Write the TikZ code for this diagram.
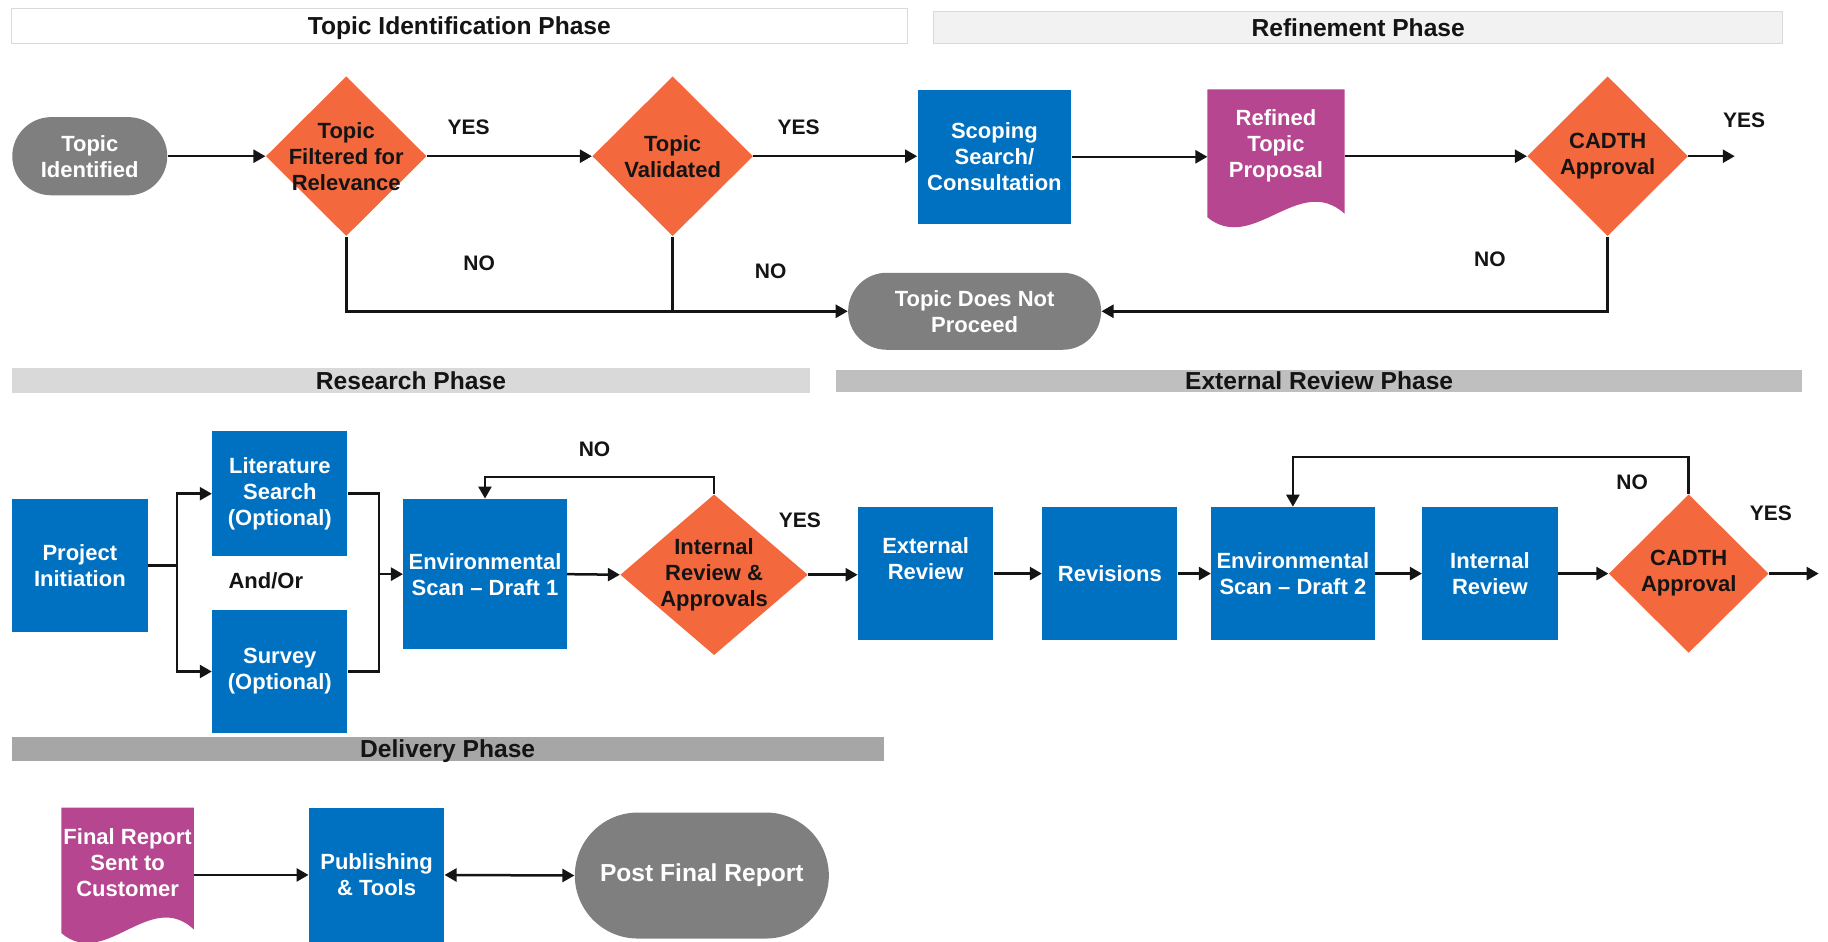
\documentclass[tikz,border=0pt]{standalone}
\usepackage{fontspec}
\setmainfont{Liberation Sans}
\usetikzlibrary{arrows.meta,shapes.geometric,shapes.misc,calc,backgrounds}
\definecolor{cadblue}{HTML}{0070C0}
\definecolor{cadorange}{HTML}{F4683D}
\definecolor{cadgrey}{HTML}{7F7F7F}
\definecolor{cadpink}{HTML}{B5468F}
\definecolor{cadink}{HTML}{141414}
\definecolor{barpale}{HTML}{F2F2F2}
\definecolor{barlight}{HTML}{D9D9D9}
\definecolor{barmid}{HTML}{BFBFBF}
\definecolor{bardark}{HTML}{A6A6A6}

% wavy bottom of a report node, filled behind it
\newcommand\docwave[1]{%
  \fill[cadpink] (#1.north west) -- (#1.north east)
    -- ($(#1.south east)+(0,-5.8pt)$)
    .. controls ($(#1.south east)!0.333!(#1.south west)+(0,14.9pt)$)
    and ($(#1.south east)!0.667!(#1.south west)+(0,-26.2pt)$)
    .. ($(#1.south west)+(0,-7.6pt)$) -- cycle;}

\begin{document}
\begin{tikzpicture}[
  x=0.5829pt,
  y=-0.5829pt,
  every node/.style={font=\bfseries\fontsize{11}{13}\selectfont, inner sep=0pt, align=center},
  phase/.style={rectangle, font=\bfseries\fontsize{12.3}{14}\selectfont, text=cadink,
    text height=8.8pt, text depth=0pt},
  task/.style={rectangle, fill=cadblue, text=white},
  decision/.style={diamond, fill=cadorange, minimum width=80.4pt, minimum height=79.9pt},
  terminal/.style={rounded rectangle, fill=cadgrey, text=white},
  report/.style={rectangle, text=white},
  answer/.style={font=\bfseries\fontsize{10.5}{12}\selectfont, text=cadink},
  every label/.style={text=cadink},
  link/.style={cadink, line width=1.25pt},
  flow/.style={link, -{Triangle[length=6pt,width=6.5pt]}},
  twoway/.style={link, {Triangle[length=6pt,width=6.5pt]}-{Triangle[length=6pt,width=6.5pt]}}
]
  \useasboundingbox (0,0) rectangle (1568,808);

  % ---- phase bars --------------------------------------------------------
  \node[phase, fill=white, draw=barlight, minimum width=447.7pt, minimum height=17.5pt]
    (identph) at (394,22) {Topic Identification Phase};
  \node[phase, fill=barpale, draw=barlight, minimum width=424.4pt, minimum height=15.7pt]
    (refineph) at (1165,23.5) {Refinement Phase};
  \node[phase, fill=barlight, minimum width=399.3pt, minimum height=12.2pt]
    (researchph) at (352.5,326.5) {Research Phase};
  \node[phase, fill=barmid, minimum width=483.2pt, minimum height=11.1pt]
    (externph) at (1131.5,326.5) {External Review Phase};
  \node[phase, fill=bardark, minimum width=436pt, minimum height=12.2pt]
    (deliverph) at (384,642.5) {Delivery Phase};

  % ---- topic identification and refinement -------------------------------
  \node[terminal, minimum width=77.5pt, minimum height=39.1pt] (topicid) at (77,134)
    {Topic\\Identified};
  \node[decision, label=center:Topic\\Filtered for\\Relevance] (filtered) at (297,134) {};
  \node[decision, label=center:Topic\\Validated] (validated) at (577,134) {};
  \node[task, minimum width=76.9pt, minimum height=67pt] (scoping) at (853,134.5)
    {Scoping\\Search/\\Consultation};
  \node[report, minimum width=68.2pt, minimum height=56pt] (proposal) at (1094.5,125)
    {Refined\\Topic\\Proposal};
  \node[decision, label=center:CADTH\\Approval] (approval) at (1379,134) {};
  \node[terminal, minimum width=126.5pt, minimum height=38.5pt] (halt) at (836,267)
    {Topic Does Not\\Proceed};
  \coordinate (approved) at (1488,134);

  \node[answer] (yesa) at (402,109) {YES};
  \node[answer] (yesb) at (685,109) {YES};
  \node[answer] (yesc) at (1496,103) {YES};
  \node[answer] (noa) at (411,226) {NO};
  \node[answer] (nob) at (661,233) {NO};
  \node[answer] (noc) at (1278,222) {NO};

  \draw[flow] (topicid.east) -- (filtered.west);
  \draw[flow] (filtered.east) -- (validated.west);
  \draw[flow] (validated.east) -- (validated.east -| scoping.west);
  \draw[flow] (scoping.east) -- (scoping.east -| proposal.west);
  \draw[flow] (approval.west -| proposal.east) -- (approval.west);
  \draw[flow] (approval.east) -- (approved);
  \draw[flow] (filtered.south) |- (halt.west);
  \draw[link] (validated.south) -- (validated.south |- halt.west);
  \draw[flow] (approval.south) |- (halt.east);

  % ---- research ----------------------------------------------------------
  \node[task, minimum width=68.2pt, minimum height=66.5pt] (initiation) at (68.5,485)
    {Project\\Initiation};
  \node[task, minimum width=67.6pt, minimum height=62.4pt] (litsearch) at (240,423.5)
    {Literature\\Search\\(Optional)};
  \node[task, minimum width=67.6pt, minimum height=61.8pt] (survey) at (240,576)
    {Survey\\(Optional)};
  \node[text=cadink] (andor) at (228,498) {And/Or};
  \node[task, minimum width=81.6pt, minimum height=75.2pt] (draftone) at (416,492.5)
    {Environmental\\Scan – Draft 1};
  \node[decision, minimum width=93.8pt, minimum height=80.4pt,
    label=center:Internal\\Review \&\\Approvals] (internal) at (612.5,493) {};
  \coordinate (fork) at (152,485);
  \coordinate (merge) at (325,492.5);
  \coordinate (redoa) at (612.5,409);

  \node[answer] (nod) at (510,385) {NO};
  \node[answer] (yesd) at (686,446) {YES};

  \draw[link] (initiation.east) -- (fork);
  \draw[flow] (fork) |- (litsearch.west);
  \draw[flow] (fork) |- (survey.west);
  \draw[link] (litsearch.east) -| (merge);
  \draw[link] (survey.east) -| (merge);
  \draw[flow] (merge) -- (draftone.west);
  \draw[flow] (draftone.east) -- (internal.west);
  \draw[flow] (internal.north) -- (redoa) -| (draftone.north);

  % ---- external review ---------------------------------------------------
  \node[task, minimum width=67.6pt, minimum height=66.5pt,
    label={[text=white, yshift=7.6pt]center:External\\Review}] (extreview) at (794,492) {};
  \node[task, minimum width=67.6pt, minimum height=66.5pt] (revisions) at (952,492)
    {Revisions};
  \node[task, minimum width=81.6pt, minimum height=66.5pt] (drafttwo) at (1109,492)
    {Environmental\\Scan – Draft 2};
  \node[task, minimum width=67.6pt, minimum height=66.5pt] (intreview) at (1278,492)
    {Internal\\Review};
  \node[decision, minimum width=79.9pt, minimum height=79.3pt,
    label=center:CADTH\\Approval] (signoff) at (1448.5,492) {};
  \coordinate (redob) at (1448.5,392);
  \coordinate (released) at (1560,492);

  \node[answer] (noe) at (1400,414) {NO};
  \node[answer] (yese) at (1519,440) {YES};

  \draw[flow] (internal.east) -- (internal.east -| extreview.west);
  \draw[flow] (extreview.east) -- (revisions.west);
  \draw[flow] (revisions.east) -- (drafttwo.west);
  \draw[flow] (drafttwo.east) -- (intreview.west);
  \draw[flow] (intreview.east) -- (signoff.west);
  \draw[flow] (signoff.north) -- (redob) -| (drafttwo.north);
  \draw[flow] (signoff.east) -- (released);

  % ---- delivery ----------------------------------------------------------
  \node[report, minimum width=65.9pt, minimum height=54.8pt] (sentout) at (109.5,740)
    {Final Report\\Sent to\\Customer};
  \node[task, minimum width=67.6pt, minimum height=67pt] (publishing) at (323,750.5)
    {Publishing\\\& Tools};
  \node[terminal, minimum width=127pt, minimum height=63pt,
    font=\bfseries\fontsize{12.3}{14}\selectfont] (postfinal) at (602,751) {Post Final Report};

  \draw[flow] (publishing.west -| sentout.east) -- (publishing.west);
  \draw[twoway] (publishing.east) -- (postfinal.west);

  \begin{scope}[on background layer]
    \docwave{proposal}
    \docwave{sentout}
  \end{scope}
\end{tikzpicture}
\end{document}
